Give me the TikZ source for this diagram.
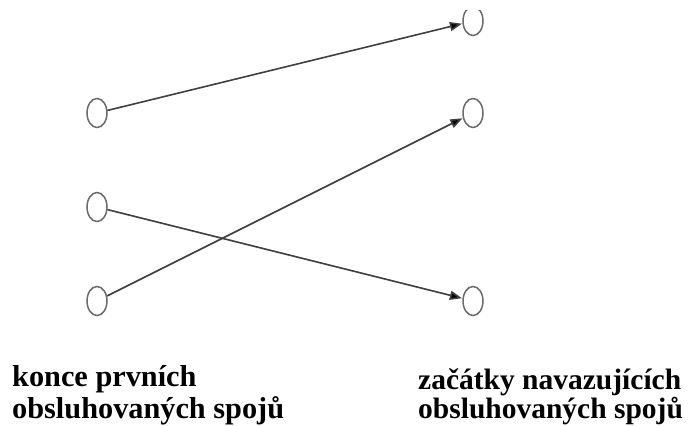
\documentclass[tikz,border=0pt]{standalone}
\usepackage{fontspec}
\setmainfont{Liberation Serif}
\usetikzlibrary{arrows.meta,shapes.geometric}
\tikzset{
  endpt/.style={draw=black!58, line width=1.5pt, ellipse, minimum width=20pt, minimum height=29pt, inner sep=0pt},
  conn/.style={draw=black!75, line width=1.6pt, -{Triangle[length=12pt,width=9pt,fill=black]}, shorten >=0.5pt},
  lbl/.style={anchor=base west, inner sep=0pt, font=\fontsize{30.3}{34}\selectfont\bfseries},
  lblr/.style={lbl, font=\fontsize{29.5}{34}\selectfont\bfseries}
}
\begin{document}
\begin{tikzpicture}[x=1pt,y=-1pt]
\useasboundingbox[fill=white] (0,0) rectangle (689,426);
% left ellipses
\node[endpt] (L1) at (97,113) {};
\node[endpt] (L2) at (97,207) {};
\node[endpt] (L3) at (97,301) {};
% right ellipses
\begin{scope}
\clip (0,10) rectangle (689,426);
\node[endpt] (R1) at (473,21) {};
\end{scope}
\node[endpt] (R2) at (473,113) {};
\node[endpt] (R3) at (473,301) {};
% connectors
\draw[conn] (L1) -- (R1);
\draw[conn] (L2) -- (R3);
\draw[conn] (L3) -- (R2);
% labels
\node[lbl] (t1) at (12,386) {konce prvních};
\node[lbl] (t2) at (12,418) {obsluhovaných spojů};
\node[lblr] (t3) at (418,389) {začátky navazujících};
\node[lblr] (t4) at (418,418) {obsluhovaných spojů};
\end{tikzpicture}
\end{document}
